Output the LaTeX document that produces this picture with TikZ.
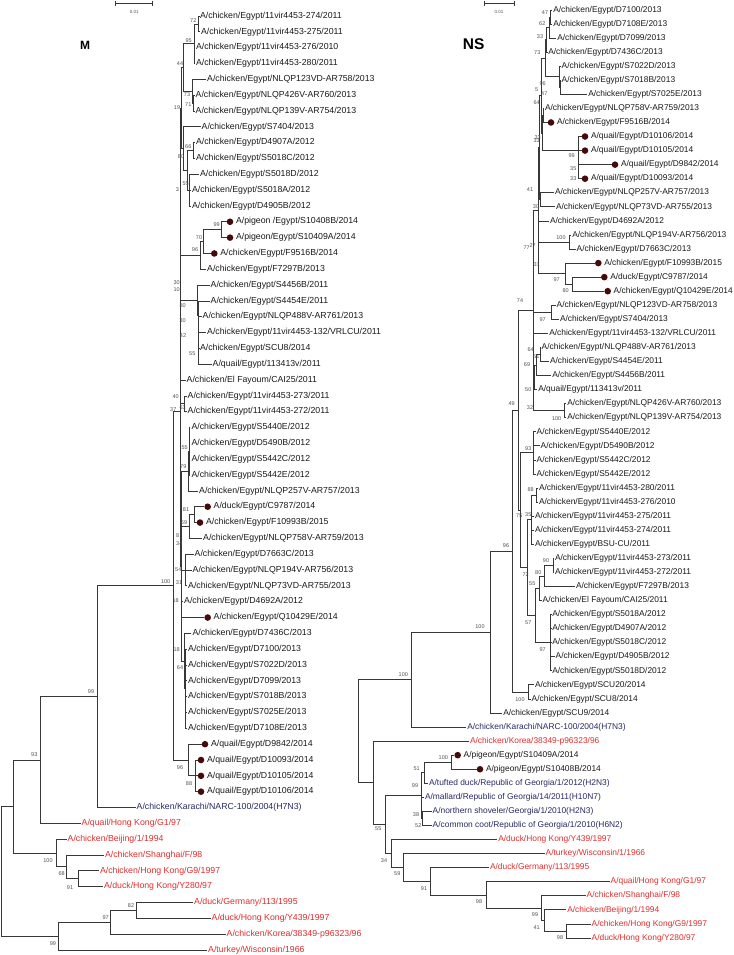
\documentclass[tikz,border=0pt]{standalone}
\usepackage{fontspec}
\setmainfont{Liberation Sans}
\definecolor{redl}{RGB}{222,45,45}
\definecolor{navy}{RGB}{40,40,100}
\definecolor{txt}{RGB}{25,25,25}
\definecolor{brc}{RGB}{55,55,55}
\definecolor{dotc}{RGB}{70,10,10}
\definecolor{bsc}{RGB}{80,80,80}
\tikzset{
 lab/.style={font=\fontsize{8.75}{10}\selectfont, inner sep=1.2pt, outer sep=0pt, text=txt, anchor=west, text height=6.3pt, text depth=1.9pt},
 brn/.style={draw=brc, line width=0.8pt},
 dotn/.style={circle, fill=dotc, minimum size=6.6pt, inner sep=0pt},
 bst/.style={font=\fontsize{5.5}{6}\selectfont, text=bsc, inner sep=0pt},
 ttl/.style={font=\bfseries, text=black, inner sep=0pt},
 sbar/.style={draw=brc, line width=0.6pt},
}
\newcounter{bsn}
\newcommand\tboot[3]{\stepcounter{bsn}\node[bst] (bsv\number\value{bsn}) at (#1,#2) {#3};}
\newcommand\tleaf[5]{\coordinate (#1) at (#2,#3); \node[lab,text=#4] (#1l) at (#1) {#5};}
\newcommand\tdleaf[4]{\coordinate (#1) at (#2,#3); \node[dotn] (#1d) at ([xshift=3.3pt]#1) {}; \node[lab] (#1l) at ([xshift=8.1pt]#1) {#4};}
\newcommand\tnode[3]{\coordinate (#1) at (#2,#3);}
\newcommand\tedge[2]{\foreach \ch in {#2} {\draw[brn] (#1) |- (\ch);}}
\begin{document}
\begin{tikzpicture}[x=1pt,y=-1pt]
\useasboundingbox (0,0) rectangle (733,955);
% ---------- titles and scale bars
\node[ttl,font=\bfseries\fontsize{12}{14}\selectfont] (titM) at (85,45) {M};
\node[ttl,font=\bfseries\fontsize{15.5}{17}\selectfont] (titNS) at (473.7,44.2) {NS};
\coordinate (sl1) at (115.7,3.3); \coordinate (sl2) at (152.7,3.3);
\draw[sbar] (sl1) -- (sl2);
\draw[sbar] ([yshift=2.5pt]sl1) -- ([yshift=-2.5pt]sl1);
\draw[sbar] ([yshift=2.5pt]sl2) -- ([yshift=-2.5pt]sl2);
\node[bst,font=\fontsize{4.5}{5}\selectfont] (sl) at (134.2,12) {0.01};
\coordinate (sr1) at (484,3.3); \coordinate (sr2) at (514,3.3);
\draw[sbar] (sr1) -- (sr2);
\draw[sbar] ([yshift=2.5pt]sr1) -- ([yshift=-2.5pt]sr1);
\draw[sbar] ([yshift=2.5pt]sr2) -- ([yshift=-2.5pt]sr2);
\node[bst,font=\fontsize{4.5}{5}\selectfont] (sr) at (499,12) {0.01};
% ================= M tree =================
\tleaf{a0}{198.8}{16.00}{txt}{A/chicken/Egypt/11vir4453-274/2011}
\tleaf{a1}{199.8}{31.83}{txt}{A/chicken/Egypt/11vir4453-275/2011}
\tleaf{a2}{194.8}{47.66}{txt}{A/chicken/Egypt/11vir4453-276/2010}
\tleaf{a3}{194.8}{63.49}{txt}{A/chicken/Egypt/11vir4453-280/2011}
\tleaf{a4}{206}{79.32}{txt}{A/chicken/Egypt/NLQP123VD-AR758/2013}
\tleaf{a5}{194.5}{95.15}{txt}{A/chicken/Egypt/NLQP426V-AR760/2013}
\tleaf{a6}{194.5}{110.98}{txt}{A/chicken/Egypt/NLQP139V-AR754/2013}
\tleaf{a7}{200.5}{126.81}{txt}{A/chicken/Egypt/S7404/2013}
\tleaf{a8}{194.8}{142.64}{txt}{A/chicken/Egypt/D4907A/2012}
\tleaf{a9}{194.8}{158.47}{txt}{A/chicken/Egypt/S5018C/2012}
\tleaf{a10}{198.8}{174.30}{txt}{A/chicken/Egypt/S5018D/2012}
\tleaf{a11}{190.8}{190.13}{txt}{A/chicken/Egypt/S5018A/2012}
\tleaf{a12}{190.8}{205.96}{txt}{A/chicken/Egypt/D4905B/2012}
\tdleaf{a13}{226.7}{221.79}{A/pigeon /Egypt/S10408B/2014}
\tdleaf{a14}{226.7}{237.62}{A/pigeon/Egypt/S10409A/2014}
\tdleaf{a15}{211}{253.45}{A/chicken/Egypt/F9516B/2014}
\tleaf{a16}{206}{269.28}{txt}{A/chicken/Egypt/F7297B/2013}
\tleaf{a17}{209.5}{285.11}{txt}{A/chicken/Egypt/S4456B/2011}
\tleaf{a18}{209.5}{300.94}{txt}{A/chicken/Egypt/S4454E/2011}
\tleaf{a19}{201.5}{316.77}{txt}{A/chicken/Egypt/NLQP488V-AR761/2013}
\tleaf{a20}{206}{332.60}{txt}{A/chicken/Egypt/11vir4453-132/VRLCU/2011}
\tleaf{a21}{198.8}{348.43}{txt}{A/chicken/Egypt/SCU8/2014}
\tleaf{a22}{211.5}{364.26}{txt}{A/quail/Egypt/113413v/2011}
\tleaf{a23}{185.5}{380.09}{txt}{A/chicken/El Fayoum/CAI25/2011}
\tleaf{a24}{186.5}{395.92}{txt}{A/chicken/Egypt/11vir4453-273/2011}
\tleaf{a25}{186.5}{411.75}{txt}{A/chicken/Egypt/11vir4453-272/2011}
\tleaf{a26}{190.3}{427.58}{txt}{A/chicken/Egypt/S5440E/2012}
\tleaf{a27}{190.3}{443.41}{txt}{A/chicken/Egypt/D5490B/2012}
\tleaf{a28}{190.3}{459.24}{txt}{A/chicken/Egypt/S5442C/2012}
\tleaf{a29}{190.3}{475.07}{txt}{A/chicken/Egypt/S5442E/2012}
\tleaf{a30}{198}{490.90}{txt}{A/chicken/Egypt/NLQP257V-AR757/2013}
\tdleaf{a31}{204.4}{506.73}{A/duck/Egypt/C9787/2014}
\tdleaf{a32}{196.7}{522.56}{A/chicken/Egypt/F10993B/2015}
\tleaf{a33}{202}{538.39}{txt}{A/chicken/Egypt/NLQP758V-AR759/2013}
\tleaf{a34}{193.5}{554.22}{txt}{A/chicken/Egypt/D7663C/2013}
\tleaf{a35}{191.5}{570.05}{txt}{A/chicken/Egypt/NLQP194V-AR756/2013}
\tleaf{a36}{187}{585.88}{txt}{A/chicken/Egypt/NLQP73VD-AR755/2013}
\tleaf{a37}{183}{601.71}{txt}{A/chicken/Egypt/D4692A/2012}
\tdleaf{a38}{204.4}{617.54}{A/chicken/Egypt/Q10429E/2014}
\tleaf{a39}{191.3}{633.37}{txt}{A/chicken/Egypt/D7436C/2013}
\tleaf{a40}{187}{649.20}{txt}{A/chicken/Egypt/D7100/2013}
\tleaf{a41}{187}{665.03}{txt}{A/chicken/Egypt/S7022D/2013}
\tleaf{a42}{187}{680.86}{txt}{A/chicken/Egypt/D7099/2013}
\tleaf{a43}{187}{696.69}{txt}{A/chicken/Egypt/S7018B/2013}
\tleaf{a44}{187}{712.52}{txt}{A/chicken/Egypt/S7025E/2013}
\tleaf{a45}{187}{728.35}{txt}{A/chicken/Egypt/D7108E/2013}
\tdleaf{a46}{201.7}{744.18}{A/quail/Egypt/D9842/2014}
\tdleaf{a47}{197.7}{760.01}{A/quail/Egypt/D10093/2014}
\tdleaf{a48}{197.7}{775.84}{A/quail/Egypt/D10105/2014}
\tdleaf{a49}{197.7}{791.67}{A/quail/Egypt/D10106/2014}
\tleaf{a50}{135.5}{807.50}{navy}{A/chicken/Karachi/NARC-100/2004(H7N3)}
\tleaf{a51}{80.5}{823.33}{redl}{A/quail/Hong Kong/G1/97}
\tleaf{a52}{66.5}{839.16}{redl}{A/chicken/Beijing/1/1994}
\tleaf{a53}{103.8}{854.99}{redl}{A/chicken/Shanghai/F/98}
\tleaf{a54}{98.8}{870.82}{redl}{A/chicken/Hong Kong/G9/1997}
\tleaf{a55}{102.8}{886.65}{redl}{A/duck/Hong Kong/Y280/97}
\tleaf{a56}{193}{902.48}{redl}{A/duck/Germany/113/1995}
\tleaf{a57}{210.5}{918.31}{redl}{A/duck/Hong Kong/Y439/1997}
\tleaf{a58}{225.5}{934.14}{redl}{A/chicken/Korea/38349-p96323/96}
\tleaf{a59}{207}{949.97}{redl}{A/turkey/Wisconsin/1966}
% internal nodes
\tnode{aA}{198.5}{23.92}
\tnode{aB}{194}{43.70}
\tnode{aD}{193.8}{103.07}
\tnode{aC}{192.5}{91.20}
\tnode{aE}{183}{67.45}
\tnode{aG}{193.5}{150.56}
\tnode{aH}{189.5}{190.13}
\tnode{aI}{187}{170.35}
\tnode{aJ}{183}{148.58}
\tnode{aF}{181.5}{108.00}
\tnode{aP99}{221.5}{229.70}
\tnode{aP70}{203.3}{241.60}
\tnode{aP96}{200}{255.40}
\tnode{aQ5}{198.6}{356.35}
\tnode{aQ4}{198.4}{344.50}
\tnode{aQ3}{198.2}{330.60}
\tnode{aQ2}{198.0}{315.80}
\tnode{aQ1}{197.8}{300.40}
\tnode{aN63}{184}{403.80}
\tnode{aN40}{180.8}{255.90}
\tnode{aX55}{189.3}{451.30}
\tnode{aX79}{188.3}{471.10}
\tnode{aN81}{194}{514.60}
\tnode{aN69}{189.3}{526.50}
\tnode{aY}{185.7}{570.05}
\tnode{aZ}{185.5}{688.80}
\tnode{aZ2}{184}{661.10}
\tnode{aNL}{181.7}{566.10}
\tnode{aN37}{180}{411.00}
\tnode{aN88}{195}{775.84}
\tnode{aN96}{188.3}{760.00}
\tnode{aR100}{173.3}{585.50}
\tnode{aN99}{97}{696.50}
\tnode{aN93}{40.7}{759.90}
\tnode{aN91}{78.3}{878.70}
\tnode{aN68}{66.7}{866.85}
\tnode{aN100c}{56}{853.00}
\tnode{aNtop}{13.3}{806.45}
\tnode{aN82}{136.7}{910.40}
\tnode{aN97}{110}{922.30}
\tnode{aN99b}{58.3}{936.10}
\tnode{aRoot}{1.5}{871.30}
% edges
\tedge{aA}{a0,a1}
\tedge{aB}{aA,a2,a3}
\tedge{aD}{a5,a6}
\tedge{aC}{a4,aD}
\tedge{aE}{aB,aC}
\tedge{aG}{a8,a9}
\tedge{aH}{a10,a11,a12}
\tedge{aI}{aG,aH}
\tedge{aJ}{a7,aI}
\tedge{aF}{aE,aJ}
\tedge{aP99}{a13,a14}
\tedge{aP70}{aP99,a15}
\tedge{aP96}{aP70,a16}
\tedge{aQ5}{a21,a22}
\tedge{aQ4}{a20,aQ5}
\tedge{aQ3}{a19,aQ4}
\tedge{aQ2}{a18,aQ3}
\tedge{aQ1}{a17,aQ2}
\tedge{aN63}{a24,a25}
\tedge{aN40}{aF,aP96,aQ1,a23,aN63}
\tedge{aX55}{a26,a27,a28,a29}
\tedge{aX79}{aX55,a30}
\tedge{aN81}{a31,a32}
\tedge{aN69}{aN81,a33}
\tedge{aY}{a34,a35,a36}
\tedge{aZ}{a40,a41,a42,a43,a44,a45}
\tedge{aZ2}{a39,aZ}
\tedge{aNL}{aX79,aN69,aY,a37,a38,aZ2}
\tedge{aN37}{aN40,aNL}
\tedge{aN88}{a47,a48,a49}
\tedge{aN96}{a46,aN88}
\tedge{aR100}{aN37,aN96}
\tedge{aN99}{aR100,a50}
\tedge{aN93}{aN99,a51}
\tedge{aN91}{a54,a55}
\tedge{aN68}{a53,aN91}
\tedge{aN100c}{a52,aN68}
\tedge{aNtop}{aN93,aN100c}
\tedge{aN82}{a56,a57}
\tedge{aN97}{aN82,a58}
\tedge{aN99b}{aN97,a59}
\tedge{aRoot}{aNtop,aN99b}
% bootstrap values
\tboot{193.3}{20.7}{72}
\tboot{188.7}{40.7}{95}
\tboot{180}{63.3}{44}
\tboot{187}{95}{73}
\tboot{188.3}{104.3}{71}
\tboot{177}{107.3}{19}
\tboot{188.3}{146.7}{66}
\tboot{181}{156.7}{80}
\tboot{185.7}{183.3}{55}
\tboot{177.5}{190}{3}
\tboot{216.7}{225}{99}
\tboot{199}{237.3}{70}
\tboot{195}{250}{96}
\tboot{176.7}{282.7}{30}
\tboot{176.7}{290}{10}
\tboot{182.7}{305.7}{80}
\tboot{182.7}{320.7}{30}
\tboot{183}{336}{42}
\tboot{192.3}{353.3}{55}
\tboot{175.7}{396.7}{40}
\tboot{182.7}{407.3}{63}
\tboot{173.3}{409.3}{37}
\tboot{184.7}{447.7}{55}
\tboot{183.3}{467}{79}
\tboot{186}{510}{81}
\tboot{184}{522.7}{69}
\tboot{177.7}{535.3}{8}
\tboot{179.3}{543.3}{34}
\tboot{178.3}{570}{54}
\tboot{179}{583}{31}
\tboot{165.7}{582}{100}
\tboot{175.7}{601}{18}
\tboot{176.7}{649.3}{18}
\tboot{180}{668}{64}
\tboot{180}{767.7}{96}
\tboot{189}{784}{88}
\tboot{91}{692}{99}
\tboot{34.3}{755}{93}
\tboot{48}{861}{100}
\tboot{61.7}{874}{68}
\tboot{70}{887.3}{91}
\tboot{131}{905.7}{82}
\tboot{105.7}{917.7}{97}
\tboot{53}{943.7}{99}
% ================= NS tree =================
\begin{scope}[lab/.append style={font=\fontsize{8.4}{10}\selectfont}]
\tleaf{b0}{552.1}{10.00}{txt}{A/chicken/Egypt/D7100/2013}
\tleaf{b1}{552.1}{24.06}{txt}{A/chicken/Egypt/D7108E/2013}
\tleaf{b2}{556.1}{38.12}{txt}{A/chicken/Egypt/D7099/2013}
\tleaf{b3}{547.1}{52.18}{txt}{A/chicken/Egypt/D7436C/2013}
\tleaf{b4}{560.5}{66.24}{txt}{A/chicken/Egypt/S7022D/2013}
\tleaf{b5}{560.5}{80.30}{txt}{A/chicken/Egypt/S7018B/2013}
\tleaf{b6}{587.1}{94.36}{txt}{A/chicken/Egypt/S7025E/2013}
\tleaf{b7}{543.8}{108.42}{txt}{A/chicken/Egypt/NLQP758V-AR759/2013}
\tdleaf{b8}{547.7}{122.48}{A/chicken/Egypt/F9516B/2014}
\tdleaf{b9}{581.7}{136.54}{A/quail/Egypt/D10106/2014}
\tdleaf{b10}{581.7}{150.60}{A/quail/Egypt/D10105/2014}
\tdleaf{b11}{611.7}{164.66}{A/quail/Egypt/D9842/2014}
\tdleaf{b12}{581.7}{178.72}{A/quail/Egypt/D10093/2014}
\tleaf{b13}{553.8}{192.78}{txt}{A/chicken/Egypt/NLQP257V-AR757/2013}
\tleaf{b14}{554.8}{206.84}{txt}{A/chicken/Egypt/NLQP73VD-AR755/2013}
\tleaf{b15}{548.8}{220.90}{txt}{A/chicken/Egypt/D4692A/2012}
\tleaf{b16}{571.1}{234.96}{txt}{A/chicken/Egypt/NLQP194V-AR756/2013}
\tleaf{b17}{575.5}{249.02}{txt}{A/chicken/Egypt/D7663C/2013}
\tdleaf{b18}{595}{263.08}{A/chicken/Egypt/F10993B/2015}
\tdleaf{b19}{601}{277.14}{A/duck/Egypt/C9787/2014}
\tdleaf{b20}{604.4}{291.20}{A/chicken/Egypt/Q10429E/2014}
\tleaf{b21}{555.5}{305.26}{txt}{A/chicken/Egypt/NLQP123VD-AR758/2013}
\tleaf{b22}{558.8}{319.32}{txt}{A/chicken/Egypt/S7404/2013}
\tleaf{b23}{548.1}{333.38}{txt}{A/chicken/Egypt/11vir4453-132/VRLCU/2011}
\tleaf{b24}{540.5}{347.44}{txt}{A/chicken/Egypt/NLQP488V-AR761/2013}
\tleaf{b25}{548.8}{361.50}{txt}{A/chicken/Egypt/S4454E/2011}
\tleaf{b26}{551.1}{375.56}{txt}{A/chicken/Egypt/S4456B/2011}
\tleaf{b27}{537.1}{389.62}{txt}{A/quail/Egypt/113413v/2011}
\tleaf{b28}{566.1}{403.68}{txt}{A/chicken/Egypt/NLQP426V-AR760/2013}
\tleaf{b29}{566.1}{417.74}{txt}{A/chicken/Egypt/NLQP139V-AR754/2013}
\tleaf{b30}{535.5}{431.80}{txt}{A/chicken/Egypt/S5440E/2012}
\tleaf{b31}{539.5}{445.86}{txt}{A/chicken/Egypt/D5490B/2012}
\tleaf{b32}{535.5}{459.92}{txt}{A/chicken/Egypt/S5442C/2012}
\tleaf{b33}{535.5}{473.98}{txt}{A/chicken/Egypt/S5442E/2012}
\tleaf{b34}{537.8}{488.04}{txt}{A/chicken/Egypt/11vir4453-280/2011}
\tleaf{b35}{537.8}{502.10}{txt}{A/chicken/Egypt/11vir4453-276/2010}
\tleaf{b36}{533.8}{516.16}{txt}{A/chicken/Egypt/11vir4453-275/2011}
\tleaf{b37}{533.8}{530.22}{txt}{A/chicken/Egypt/11vir4453-274/2011}
\tleaf{b38}{533.8}{544.28}{txt}{A/chicken/Egypt/BSU-CU/2011}
\tleaf{b39}{553.8}{558.34}{txt}{A/chicken/Egypt/11vir4453-273/2011}
\tleaf{b40}{553.8}{572.40}{txt}{A/chicken/Egypt/11vir4453-272/2011}
\tleaf{b41}{574.8}{586.46}{txt}{A/chicken/Egypt/F7297B/2013}
\tleaf{b42}{541.5}{600.52}{txt}{A/chicken/El Fayoum/CAI25/2011}
\tleaf{b43}{551.1}{614.58}{txt}{A/chicken/Egypt/S5018A/2012}
\tleaf{b44}{551.1}{628.64}{txt}{A/chicken/Egypt/D4907A/2012}
\tleaf{b45}{551.1}{642.70}{txt}{A/chicken/Egypt/S5018C/2012}
\tleaf{b46}{554.5}{656.76}{txt}{A/chicken/Egypt/D4905B/2012}
\tleaf{b47}{551.1}{670.82}{txt}{A/chicken/Egypt/S5018D/2012}
\tleaf{b48}{533.8}{684.88}{txt}{A/chicken/Egypt/SCU20/2014}
\tleaf{b49}{530.5}{698.94}{txt}{A/chicken/Egypt/SCU8/2014}
\tleaf{b50}{502.1}{713.00}{txt}{A/chicken/Egypt/SCU9/2014}
\tleaf{b51}{466.1}{727.06}{navy}{A/chicken/Karachi/NARC-100/2004(H7N3)}
\tleaf{b52}{468.8}{741.12}{redl}{A/chicken/Korea/38349-p96323/96}
\tdleaf{b53}{454.4}{755.18}{A/pigeon/Egypt/S10409A/2014}
\tdleaf{b54}{476.7}{769.24}{A/pigeon/Egypt/S10408B/2014}
\tleaf{b55}{427.8}{783.30}{navy}{A/tufted duck/Republic of Georgia/1/2012(H2N3)}
\tleaf{b56}{423.8}{797.36}{navy}{A/mallard/Republic of Georgia/14/2011(H10N7)}
\tleaf{b57}{431.5}{811.42}{navy}{A/northern shoveler/Georgia/1/2010(H2N3)}
\tleaf{b58}{431.5}{825.48}{navy}{A/common coot/Republic of Georgia/1/2010(H6N2)}
\tleaf{b59}{497.1}{839.54}{redl}{A/duck/Hong Kong/Y439/1997}
\tleaf{b60}{544.5}{853.60}{redl}{A/turkey/Wisconsin/1/1966}
\tleaf{b61}{488.8}{867.66}{redl}{A/duck/Germany/113/1995}
\tleaf{b62}{609.5}{881.72}{redl}{A/quail/Hong Kong/G1/97}
\tleaf{b63}{585.5}{895.78}{redl}{A/chicken/Shanghai/F/98}
\tleaf{b64}{566.1}{909.84}{redl}{A/chicken/Beijing/1/1994}
\tleaf{b65}{590.5}{923.90}{redl}{A/chicken/Hong Kong/G9/1997}
\tleaf{b66}{590.5}{937.96}{redl}{A/duck/Hong Kong/Y280/97}
\end{scope}
% internal nodes
\tnode{ba}{550.5}{17.03}
\tnode{bb}{549.8}{27.58}
\tnode{bc}{546.5}{39.88}
\tnode{be2}{560.3}{87.33}
\tnode{be}{559.8}{76.79}
\tnode{bd}{545}{58.34}
\tnode{bg}{543}{115.45}
\tnode{bh2}{578.5}{164.66}
\tnode{bh}{578.2}{150.60}
\tnode{bi}{542.5}{133.03}
\tnode{bj}{541.2}{95.69}
\tnode{bk}{540.2}{199.81}
\tnode{bp}{539.6}{147.75}
\tnode{bl}{569}{241.99}
\tnode{bm}{572.3}{284.17}
\tnode{bn}{565.7}{273.63}
\tnode{bo}{538.6}{210.69}
\tnode{bq}{551.7}{312.29}
\tnode{bt1}{540}{354.47}
\tnode{bt2}{536}{365.02}
\tnode{bt3}{534.5}{377.32}
\tnode{bn100}{564.5}{410.71}
\tnode{bF1}{533.5}{310.70}
\tnode{bs}{533.8}{452.89}
\tnode{bt}{536.5}{495.07}
\tnode{bu}{531.7}{519.68}
\tnode{bw90}{553}{565.37}
\tnode{bv}{544.3}{575.92}
\tnode{bx}{539}{588.22}
\tnode{by1}{550.5}{642.70}
\tnode{bz1}{535}{615.46}
\tnode{baa}{527}{567.57}
\tnode{bbb}{520.5}{510.23}
\tnode{bee}{518.3}{410.47}
\tnode{bscu}{528.3}{691.91}
\tnode{bcc}{512.7}{551.19}
\tnode{bdd}{490}{632.10}
\tnode{bkk}{411.7}{679.58}
\tnode{bpg}{451.7}{762.21}
\tnode{bpg2}{424.5}{772.76}
\tnode{bqq}{422.3}{818.45}
\tnode{bgg2}{421.7}{795.60}
\tnode{bpp}{566.7}{930.93}
\tnode{boo}{544.3}{920.39}
\tnode{bnn}{541.7}{908.08}
\tnode{bmm2}{486}{894.90}
\tnode{bll2}{430.7}{881.28}
\tnode{bkk2}{403.3}{867.44}
\tnode{bjj2}{391}{853.49}
\tnode{bn55}{385.5}{824.55}
\tnode{bll}{373.3}{782.84}
\tnode{bRoot}{358.3}{731.21}
% edges
\tedge{ba}{b0,b1}
\tedge{bb}{ba,b2}
\tedge{bc}{bb,b3}
\tedge{be2}{b5,b6}
\tedge{be}{b4,be2}
\tedge{bd}{bc,be}
\tedge{bg}{b7,b8}
\tedge{bh2}{b10,b11,b12}
\tedge{bh}{b9,bh2}
\tedge{bi}{bg,bh}
\tedge{bj}{bd,bi}
\tedge{bk}{b13,b14}
\tedge{bp}{bj,bk}
\tedge{bl}{b16,b17}
\tedge{bm}{b19,b20}
\tedge{bn}{b18,bm}
\tedge{bo}{bp,b15,bl,bn}
\tedge{bq}{b21,b22}
\tedge{bt1}{b24,b25}
\tedge{bt2}{bt1,b26}
\tedge{bt3}{bt2,b27}
\tedge{bn100}{b28,b29}
\tedge{bF1}{bo,bq,b23,bt3,bn100}
\tedge{bs}{b30,b31,b32,b33}
\tedge{bt}{b34,b35}
\tedge{bu}{bt,b36,b37,b38}
\tedge{bw90}{b39,b40}
\tedge{bv}{bw90,b41}
\tedge{bx}{bv,b42}
\tedge{by1}{b43,b44,b45,b46,b47}
\tedge{bz1}{bx,by1}
\tedge{baa}{bu,bz1}
\tedge{bbb}{bs,baa}
\tedge{bee}{bF1,bbb}
\tedge{bscu}{b48,b49}
\tedge{bcc}{bee,bscu}
\tedge{bdd}{bcc,b50}
\tedge{bkk}{bdd,b51}
\tedge{bpg}{b53,b54}
\tedge{bpg2}{bpg,b55}
\tedge{bqq}{b57,b58}
\tedge{bgg2}{bpg2,b56,bqq}
\tedge{bpp}{b65,b66}
\tedge{boo}{b64,bpp}
\tedge{bnn}{b63,boo}
\tedge{bmm2}{b62,bnn}
\tedge{bll2}{b61,bmm2}
\tedge{bkk2}{b60,bll2}
\tedge{bjj2}{b59,bkk2}
\tedge{bn55}{bgg2,bjj2}
\tedge{bll}{b52,bn55}
\tedge{bRoot}{bkk,bll}
% bootstrap values
\tboot{545}{12.7}{47}
\tboot{542.3}{23.3}{62}
\tboot{540}{36.7}{33}
\tboot{537.3}{52.7}{73}
\tboot{542.7}{84}{96}
\tboot{544.3}{94}{47}
\tboot{536.7}{90}{5}
\tboot{536.7}{102.7}{64}
\tboot{537.7}{137.3}{33}
\tboot{536.7}{141}{33}
\tboot{571.7}{156}{99}
\tboot{573.3}{168.3}{35}
\tboot{573.3}{178.3}{33}
\tboot{530}{189.3}{41}
\tboot{536}{206.7}{30}
\tboot{561}{237.7}{100}
\tboot{526.7}{247.3}{77}
\tboot{532.7}{246}{27}
\tboot{536.7}{264.3}{31}
\tboot{556.7}{279.3}{97}
\tboot{565.7}{290.7}{80}
\tboot{520}{301}{74}
\tboot{542.7}{319.3}{97}
\tboot{530.7}{349.3}{64}
\tboot{536.3}{357}{51}
\tboot{527}{365}{69}
\tboot{528.3}{389.3}{50}
\tboot{511.7}{404}{49}
\tboot{530}{407.3}{32}
\tboot{556.7}{418.7}{100}
\tboot{528.3}{448.7}{93}
\tboot{530.7}{490}{88}
\tboot{519.3}{516}{75}
\tboot{528.3}{515}{35}
\tboot{506}{545.7}{96}
\tboot{546}{561}{90}
\tboot{538.3}{572.7}{80}
\tboot{525.7}{574.7}{72}
\tboot{532.3}{584}{55}
\tboot{528.3}{622.7}{57}
\tboot{480}{626.7}{100}
\tboot{542.7}{650}{97}
\tboot{520}{699.3}{100}
\tboot{403.3}{674.3}{100}
\tboot{443.3}{758}{100}
\tboot{416.7}{768.7}{51}
\tboot{415}{786}{99}
\tboot{416}{815}{38}
\tboot{418.3}{825.7}{52}
\tboot{378.3}{828.3}{55}
\tboot{384}{861}{34}
\tboot{397.3}{874}{59}
\tboot{424}{888.3}{91}
\tboot{479}{901.7}{98}
\tboot{535}{915}{99}
\tboot{536.7}{927.3}{41}
\tboot{560}{937.3}{98}
\end{tikzpicture}
\end{document}
